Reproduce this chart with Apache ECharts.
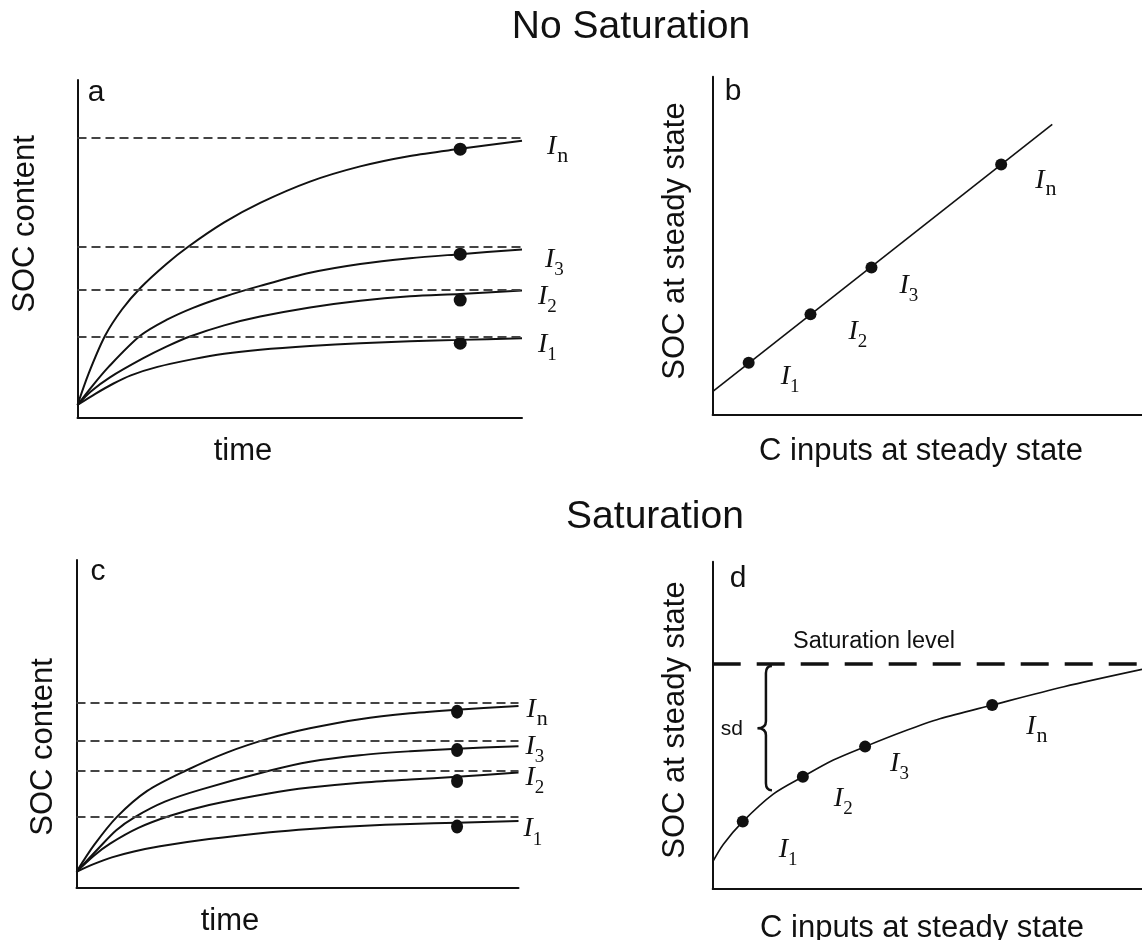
<!DOCTYPE html>
<html>
<head>
<meta charset="utf-8">
<script src="https://cdn.jsdelivr.net/npm/echarts@6/dist/echarts.min.js"></script>
<style>
  html, body { margin: 0; padding: 0; background: #fff; }
  #chart { width: 1142px; height: 940px; }
</style>
</head>
<body>
<div id="chart"></div>
<script>
// ---- Panel a: SOC over time, no saturation (x = time, y = SOC content) ----
const curveA_In = [[0,3.7],[2.5,13.0],[6.2,24.2],[10,32.0],[14.3,38.6],[20,45.5],[24.9,50.6],[33,57.8],[41.1,63.6],[52.3,69.9],[63.6,74.4],[74.8,77.5],[86.1,79.6],[100,82.0]];
const curveA_I3 = [[0,3.7],[3,8.8],[7,15.0],[14.1,24.2],[20,28.9],[26,32.5],[33,35.8],[41.1,39.0],[52.3,42.9],[63.6,45.5],[74.8,47.2],[86.1,48.4],[100,49.8]];
const curveA_I2 = [[0,3.7],[3,7.7],[7.3,11.9],[14.7,17.5],[20,21.0],[25.3,24.0],[33,27.3],[41.1,29.9],[52.3,32.6],[63.6,34.6],[74.8,35.9],[86.1,36.6],[100,37.6]];
const curveA_I1 = [[0,3.7],[4,7.0],[8,10.0],[12,12.5],[18,15.0],[26,17.3],[33,18.9],[41.1,20.1],[52.3,21.2],[63.6,22.0],[74.8,22.6],[86.1,23.0],[100,23.5]];
const levelsA = [83.0, 50.6, 37.9, 24.0];      // steady-state levels In, I3, I2, I1
const dotTimeA = 86.1;
const dotsA = [79.5, 48.4, 34.8, 22.0];

// ---- Panel b: steady-state SOC vs C inputs, linear ----
const lineB = [[0,6.7],[79.1,85.9]];
const dotsB = [[8.4,15.3],[22.8,29.6],[37.0,43.5],[67.2,74.0]];   // I1, I2, I3, In

// ---- Panel c: SOC over time, with saturation ----
const curveC_In = [[0,4.8],[4,13.0],[9.1,21.5],[16,29.5],[24.9,35.8],[34,41.2],[43.8,45.6],[52.8,48.6],[64.1,51.4],[75.5,53.2],[86.1,54.3],[100,55.4]];
const curveC_I3 = [[0,4.8],[5,12.0],[9,17.5],[13.2,21.5],[20,26.2],[27.9,29.8],[43.8,35.7],[52.8,38.4],[64.1,40.4],[75.5,41.6],[86.1,42.4],[100,43.1]];
const curveC_I2 = [[0,4.8],[4,9.8],[7.6,13.4],[14,18.2],[21.2,21.9],[30,25.2],[43.8,28.8],[52.8,30.5],[64.1,32.0],[75.5,33.0],[86.1,33.8],[100,35.1]];
const curveC_I1 = [[0,4.8],[4,7.2],[8,9.2],[13,11.0],[18.9,12.6],[30,14.8],[43.8,16.9],[52.8,17.9],[64.1,18.8],[75.5,19.4],[86.1,19.8],[100,20.3]];
const levelsC = [56.5, 44.9, 35.8, 21.5];
const dotTimeC = 86.1;
const dotsC = [53.7, 42.0, 32.5, 18.6];

// ---- Panel d: steady-state SOC vs C inputs, saturating ----
const curveD = [[0,8.3],[2.5,13.7],[7.0,20.6],[14.1,29.0],[21.0,34.3],[28.1,39.4],[35.5,43.5],[44.4,48.1],[52.9,52.0],[65.1,56.2],[81.8,61.8],[100,67.1]];
const dotsD = [[7.0,20.6],[21.0,34.3],[35.5,43.5],[65.1,56.2]];  // I1, I2, I3, In
const saturationLevel = 68.9;
const deficit = [12.4, 30.2, 68.1];   // input position, curve value, saturation value

// input-level subscripts
const subsTime = ['n', '3', '2', '1'];   // curve order in a and c
const subsSteady = ['1', '2', '3', 'n']; // point order in b and d

const INK = '#111';
const SANS = '"Liberation Sans", Arial, sans-serif';
const SERIF = '"Liberation Serif", "Times New Roman", serif';

const rich = {
  i: { fontFamily: SERIF, fontStyle: 'italic', fontSize: 28, lineHeight: 30, verticalAlign: 'top', color: INK },
  n: { fontFamily: SERIF, fontSize: 22, lineHeight: 22, padding: [12, 0, 0, 1], verticalAlign: 'top', color: INK },
  d: { fontFamily: SERIF, fontSize: 19, lineHeight: 19, padding: [15, 0, 0, 0], verticalAlign: 'top', color: INK }
};
const iLabel = s => s === 'n' ? '{i|I}{n|n}' : '{i|I}{d|' + s + '}';

const chart = echarts.init(document.getElementById('chart'), null, { renderer: 'canvas' });

const grids = [
  { left: 77.5, top: 80, width: 444.5, height: 337.5 },
  { left: 712.6, top: 76.7, width: 429.4, height: 337.6 },
  { left: 76.5, top: 560, width: 442, height: 327.5 },
  { left: 712.7, top: 561.7, width: 429.3, height: 327.3 }
];
const axis = i => ({
  gridIndex: i, type: 'value', min: 0, max: 100,
  axisLine: { show: true, onZero: false, lineStyle: { color: INK, width: 2 } },
  axisTick: { show: false }, axisLabel: { show: false }, splitLine: { show: false }
});

// time-course curves with their steady-state dashed level and end label
function timeCurves(grid, curves, levels, offsets) {
  return curves.map((data, k) => ({
    type: 'line', xAxisIndex: grid, yAxisIndex: grid, data,
    smooth: 0.3, showSymbol: false, silent: true,
    lineStyle: { color: INK, width: 2 },
    endLabel: {
      show: true, formatter: iLabel(subsTime[k]), rich,
      distance: 0, offset: offsets[k], align: 'left', verticalAlign: 'middle'
    },
    markLine: {
      silent: true, symbol: 'none', label: { show: false },
      lineStyle: { type: [9, 5], color: '#444', width: 1.8 },
      data: [{ yAxis: levels[k] }]
    }
  }));
}

function steadyDots(grid, pts, offsets, size) {
  return {
    type: 'scatter', xAxisIndex: grid, yAxisIndex: grid, symbolSize: size,
    itemStyle: { color: INK, opacity: 1 }, silent: true,
    data: pts.map((p, k) => ({
      value: p,
      label: { show: true, position: 'inside', formatter: iLabel(subsSteady[k]), rich,
               align: 'left', verticalAlign: 'middle', offset: offsets[k] }
    }))
  };
}

const text = (str, x, y, size, extra) => Object.assign({
  type: 'text', x, y, silent: true,
  style: { text: str, font: size + 'px ' + SANS, fill: INK,
           align: 'center', verticalAlign: 'middle', textAlign: 'center', textVerticalAlign: 'middle' }
}, extra || {});

const series = [
  ...timeCurves(0, [curveA_In, curveA_I3, curveA_I2, curveA_I1], levelsA, [[25, 7], [23, 11], [16, 7], [16, 7]]),
  { type: 'scatter', xAxisIndex: 0, yAxisIndex: 0, symbolSize: 13, itemStyle: { color: INK, opacity: 1 }, silent: true,
    data: dotsA.map(v => [dotTimeA, v]) },

  { type: 'line', xAxisIndex: 1, yAxisIndex: 1, data: lineB, showSymbol: false, silent: true,
    lineStyle: { color: INK, width: 1.6 } },
  steadyDots(1, dotsB, [[32, 15], [38, 18], [28, 19], [34, 17]], 12),

  ...timeCurves(2, [curveC_In, curveC_I3, curveC_I2, curveC_I1], levelsC, [[8, 5], [7, 1], [7, 6], [5, 9]]),
  { type: 'scatter', xAxisIndex: 2, yAxisIndex: 2, symbolSize: [12, 14], itemStyle: { color: INK, opacity: 1 }, silent: true,
    data: dotsC.map(v => [dotTimeC, v]) },

  { type: 'line', xAxisIndex: 3, yAxisIndex: 3, data: curveD, smooth: 0.3,
    showSymbol: false, silent: true, lineStyle: { color: INK, width: 1.6 },
    markLine: {
      silent: true, symbol: 'none', label: { show: false },
      lineStyle: { type: [28, 16], color: INK, width: 3.5 },
      data: [{ yAxis: saturationLevel }]
    } },
  steadyDots(3, dotsD, [[36, 29], [31, 23], [25, 18], [34, 23]], 12),

  // curly brace marking the saturation deficit (sd)
  { type: 'custom', xAxisIndex: 3, yAxisIndex: 3, silent: true, data: [deficit],
    renderItem: (params, api) => {
      const top = api.coord([api.value(0), api.value(2)]);
      const bot = api.coord([api.value(0), api.value(1)]);
      const x = top[0], y0 = top[1], y1 = bot[1], ym = (y0 + y1) / 2;
      const c = 7, tip = 8.5;
      const d = `M${x + 6},${y0} Q${x},${y0} ${x},${y0 + c} L${x},${ym - c} Q${x},${ym} ${x - tip},${ym} ` +
                `Q${x},${ym} ${x},${ym + c} L${x},${y1 - c} Q${x},${y1} ${x + 6},${y1}`;
      return {
        type: 'group',
        children: [
          { type: 'path', shape: { pathData: d }, style: { fill: null, stroke: INK, lineWidth: 2.5 } },
          { type: 'text', style: { text: 'sd', x: x - 34, y: ym + 1, font: '21px ' + SANS, fill: INK,
                                   align: 'center', verticalAlign: 'middle' } }
        ]
      };
    } }
];

chart.setOption({
  animation: false,
  backgroundColor: '#fff',
  grid: grids,
  xAxis: [0, 1, 2, 3].map(axis),
  yAxis: [0, 1, 2, 3].map(axis),
  series,
  graphic: [
    text('No Saturation', 631, 27.5, 39),
    text('Saturation', 655, 517, 39),
    text('a', 96, 92.5, 30), text('b', 733, 92, 30),
    text('c', 98, 572, 30), text('d', 738, 579, 30),
    text('time', 243, 451, 31), text('time', 230, 921, 31),
    text('C inputs at steady state', 921, 451, 31),
    text('C inputs at steady state', 922, 928, 31),
    text('SOC content', 25, 224, 31, { rotation: Math.PI / 2 }),
    text('SOC content', 43.5, 747, 31, { rotation: Math.PI / 2 }),
    text('SOC at steady state', 675, 241, 31, { rotation: Math.PI / 2 }),
    text('SOC at steady state', 675, 720, 31, { rotation: Math.PI / 2 }),
    Object.assign(text('Saturation level', 793, 641.5, 23.5), {
      style: { text: 'Saturation level', font: '23.5px ' + SANS, fill: INK,
               align: 'left', verticalAlign: 'middle', textAlign: 'left', textVerticalAlign: 'middle' }
    })
  ]
});
</script>
</body>
</html>
